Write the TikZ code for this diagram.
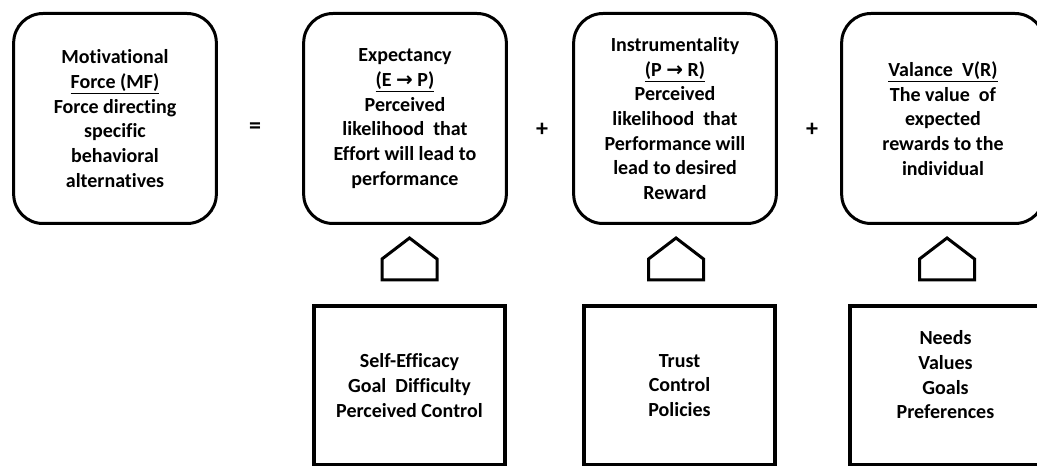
\documentclass[tikz,border=0pt]{standalone}
\usepackage{fontspec}
\setmainfont{Carlito}[Ligatures=NoCommon]
\newfontfamily\arrfont{DejaVu Sans}
\newcommand{\arr}{{\arrfont\bfseries\symbol{"2192}}}
\begin{document}
\begin{tikzpicture}[x=.75pt,y=-.75pt]
\tikzset{every node/.style={font=\bfseries\fontsize{15}{18.5}\selectfont,align=center,inner sep=2},
  topbox/.style={draw=black,line width=2.25pt,rounded corners=22pt,minimum width=152pt,minimum height=157.5pt},
  factbox/.style={draw=black,line width=3pt,minimum width=143pt,minimum height=119pt},
  sign/.style={font=\bfseries\fontsize{18}{18}\selectfont},
  house/.style={draw=black,line width=2.25pt,line join=miter}}
    \fill[white] (0,0) rectangle (1037,466);
    \useasboundingbox (0,0) rectangle (1037,466);

    \node[topbox] (mf) at (115,118.5) {Motivational\\\underline{Force (MF)}\\Force directing\\specific\\behavioral\\alternatives};
    \node[topbox] (ex) at (405,118.5) {Expectancy\\\underline{(E \arr{} P)}\\Perceived\\likelihood\ \ that\\Effort will lead to\\performance};
    \node[topbox] (in) at (675,118.5) {Instrumentality\\\underline{(P \arr{} R)}\\Perceived\\likelihood\ \ that\\Performance will\\lead to desired\\Reward};
    \node[topbox] (va) at (943,118.5) {\underline{Valance\ \ V(R)}\\The value\ \ of\\expected\\rewards to the\\individual};

    \node[sign] (eq) at (255,128) {=};
    \node[sign] (p1) at (542,130) {+};
    \node[sign] (p2) at (812,130) {+};

    \draw[house] (382,280) -- (382,259) -- (409.5,238) -- (437,259) -- (437,280) -- cycle;
    \draw[house] (648.5,280) -- (648.5,259) -- (676,238) -- (703.5,259) -- (703.5,280) -- cycle;
    \draw[house] (919.5,280) -- (919.5,259) -- (947,238) -- (974.5,259) -- (974.5,280) -- cycle;

    \node[factbox] (se) at (409.5,385.5) {Self-Efficacy\\Goal\ \ Difficulty\\Perceived Control};
    \node[factbox] (tr) at (679.5,385.5) {Trust\\Control\\Policies};
    \node[factbox,text depth=16pt] (ne) at (945.5,385.5) {Needs\\Values\\Goals\\Preferences};
\end{tikzpicture}
\end{document}
